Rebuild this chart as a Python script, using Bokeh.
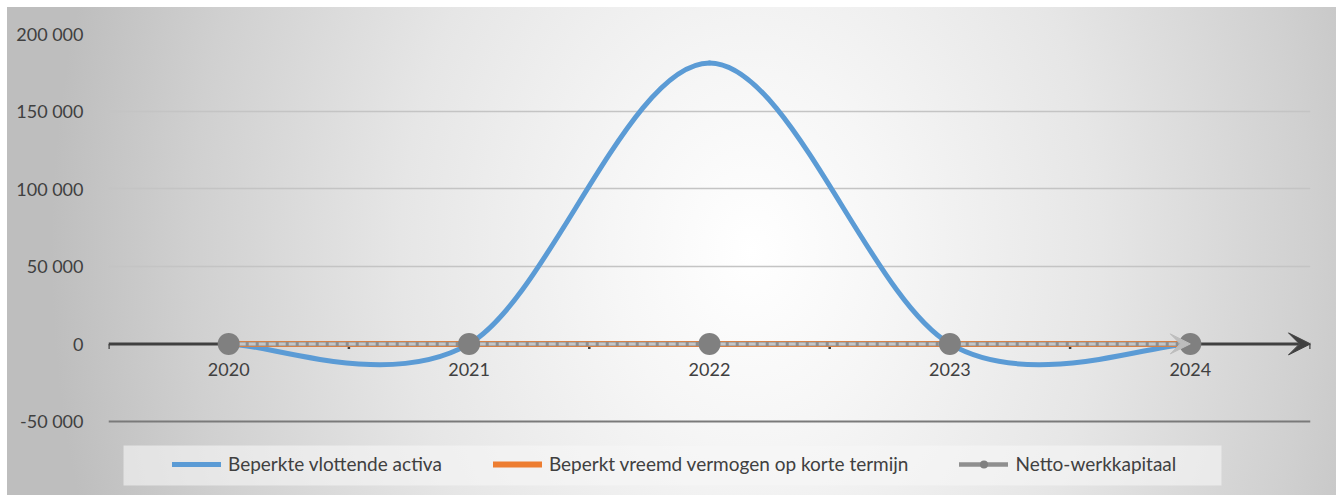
import numpy as np
from bokeh.plotting import figure
from bokeh.models import (Range1d, FixedTicker, Legend, LegendItem, Arrow, VeeHead, Span,
                          BoxAnnotation)
from bokeh.core.properties import value
from bokeh.embed import file_html
from bokeh.resources import INLINE

# ---------------- data ----------------
years = ["2020", "2021", "2022", "2023", "2024"]
beperkte_vlottende_activa = [0, 0, 181000, 0, 0]
beperkt_vreemd_vermogen = [0, 0, 0, 0, 0]
netto_werkkapitaal = [0, 0, 0, 0, 0]
y_ticks = [-50000, 0, 50000, 100000, 150000, 200000]
y_tick_labels = ["-50 000", "0", "50 000", "100 000", "150 000", "200 000"]
series_names = ["Beperkte vlottende activa",
                "Beperkt vreemd vermogen op korte termijn",
                "Netto-werkkapitaal"]

FONT = "Lato"
TXT = "#404040"
BLUE = "#5B9BD5"
ORANGE = "#ED7D31"
GREY = "#8f8f8f"

xs = list(range(len(years)))

bg = ("radial-gradient(ellipse 700px 900px at 56% 50%, #ffffff 0%, #f6f6f6 20%, "
      "#e6e6e6 50%, #d0d0d0 80%, #bebebe 100%) 7px 7px / 1329px 488px no-repeat, #ffffff")

# the frame reaches the bottom of the chart so the legend (inside the frame) is not clipped
p = figure(width=1338, height=495, output_backend="svg", toolbar_location=None,
           x_range=Range1d(-0.5, len(years) - 0.5), y_range=Range1d(-97700, 200000),
           x_axis_location=None,
           min_border_left=108, min_border_right=28, min_border_top=33,
           min_border_bottom=0,
           background_fill_alpha=0, border_fill_alpha=0, outline_line_color=None,
           styles={"background": bg})

p.xgrid.visible = False

yax = p.yaxis[0]
yax.ticker = FixedTicker(ticks=y_ticks)
yax.major_label_overrides = {t: l for t, l in zip(y_ticks, y_tick_labels)}
yax.axis_line_color = None
yax.major_tick_line_color = None
yax.minor_tick_line_color = None
yax.major_label_standoff = 19
yax.major_label_text_font = FONT
yax.major_label_text_font_size = "18px"
yax.major_label_text_color = TXT

p.ygrid.ticker = FixedTicker(ticks=[t for t in y_ticks if t > 0])
p.ygrid.grid_line_color = "#c4c4c4"
p.ygrid.grid_line_width = 1.5

p.add_layout(Span(location=y_ticks[0], dimension="width", line_color="#7a7a7a",
                  line_width=2, level="underlay"))

# legend background box (screen units, relative to the frame)
p.add_layout(BoxAnnotation(left=15, right=1113, top=50, bottom=10,
                           left_units="screen", right_units="screen",
                           top_units="screen", bottom_units="screen",
                           fill_color="#f6f6f6", fill_alpha=0.6, line_color=None,
                           level="underlay"))

# horizontal axis at 0 with arrow
p.add_layout(Arrow(x_start=-0.5, y_start=0, x_end=len(years) - 0.5, y_end=0,
                   line_color=TXT, line_width=3, level="underlay",
                   end=VeeHead(size=22, fill_color=TXT, line_color=TXT)))
bounds = [i - 0.5 for i in range(len(years) + 1)]
p.segment(x0=bounds, y0=[0] * len(bounds), x1=bounds, y1=[-3300] * len(bounds),
          line_color=TXT, line_width=2.5, level="underlay")
p.text(x=xs, y=[0] * len(xs), text=years, text_align="center", text_baseline="top",
       y_offset=19, text_font=value(FONT), text_font_size="18px", text_color=TXT)

# smooth (Excel-like) curve: cubic bezier segments through the data points
P = list(zip(xs, beperkte_vlottende_activa))
n = len(P)
bx0, by0, bx1, by1, cx0, cy0, cx1, cy1 = ([] for _ in range(8))
for i in range(n - 1):
    pm, pa, pb, pp = P[max(i - 1, 0)], P[i], P[i + 1], P[min(i + 2, n - 1)]
    bx0.append(pa[0]); by0.append(pa[1]); bx1.append(pb[0]); by1.append(pb[1])
    cx0.append(pa[0] + (pb[0] - pm[0]) / 6); cy0.append(pa[1] + (pb[1] - pm[1]) / 6)
    cx1.append(pb[0] - (pp[0] - pa[0]) / 6); cy1.append(pb[1] - (pp[1] - pa[1]) / 6)
r_blue = p.bezier(x0=bx0, y0=by0, x1=bx1, y1=by1, cx0=cx0, cy0=cy0, cx1=cx1, cy1=cy1,
                  line_color=BLUE, line_width=5, line_cap="round")

r_orange = p.line(xs, beperkt_vreemd_vermogen, line_color=ORANGE, line_width=6,
                  line_cap="round")
r_grey = p.line(xs, netto_werkkapitaal, line_color=GREY, line_width=4.5, line_cap="round")
p.line(xs, netto_werkkapitaal, line_color="#c6c6c6", line_width=3, line_dash="7 3")
r_mark = p.scatter(xs, netto_werkkapitaal, size=22, fill_color="#808080", line_color=None)

p.add_layout(Arrow(x_start=xs[-2], y_start=netto_werkkapitaal[-2], x_end=xs[-1],
                   y_end=netto_werkkapitaal[-1], line_alpha=0,
                   end=VeeHead(size=20, fill_color="#bdbdbd", line_color="#bdbdbd")))

legend = Legend(items=[LegendItem(label=series_names[0], renderers=[r_blue]),
                       LegendItem(label=series_names[1], renderers=[r_orange]),
                       LegendItem(label=series_names[2], renderers=[r_grey, r_mark])],
                orientation="horizontal", location=(64, 20),
                label_text_font=FONT, label_text_font_size="19px", label_text_color=TXT,
                glyph_width=49, glyph_height=20, label_standoff=7, spacing=51,
                padding=9, margin=0, background_fill_alpha=0, border_line_color=None)
p.add_layout(legend, "center")

open("out.html", "w").write(file_html(p, INLINE))
